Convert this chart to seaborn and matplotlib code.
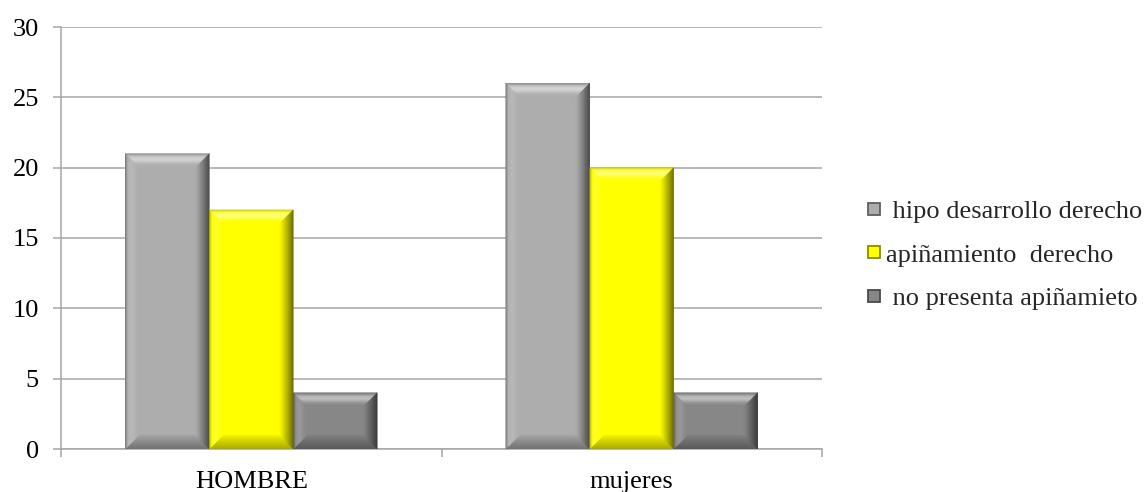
import numpy as np
import pandas as pd
import matplotlib
matplotlib.use("Agg")
import matplotlib.pyplot as plt
from matplotlib.patches import Polygon
from matplotlib.lines import Line2D
from matplotlib.colors import to_rgb
import seaborn as sns

# Data
groups = ["HOMBRE", "mujeres"]
series = [" hipo desarrollo derecho", "apiñamiento  derecho", " no presenta apiñamieto"]
hipo_desarrollo = [21, 26]
apinamiento = [17, 20]
no_presenta = [4, 4]
y_ticks = [0, 5, 10, 15, 20, 25, 30]

colors = ["#ADADAD", "#FFFF00", "#878787"]

df = pd.DataFrame({
    "grupo": groups * 3,
    "serie": [series[0]] * 2 + [series[1]] * 2 + [series[2]] * 2,
    "valor": hipo_desarrollo + apinamiento + no_presenta,
})

sns.set_style("white")
plt.rcParams["font.family"] = ["Liberation Serif", "DejaVu Serif"]

fig = plt.figure(figsize=(11.44, 4.92), dpi=100)
ax = fig.add_axes([61 / 1144, 1 - 449 / 492, (822 - 61) / 1144, (449 - 27) / 492])

sns.barplot(data=df, x="grupo", y="valor", hue="serie", order=groups,
            hue_order=series, palette=colors, width=0.662, saturation=1,
            linewidth=0, legend=False, ax=ax, zorder=3)

ax.set_xlim(-0.5, 1.5)
ax.set_ylim(0, 30)
ax.set_yticks(y_ticks)
ax.set_xlabel("")
ax.set_ylabel("")

grid_c = "#A6A6A6"
ax.yaxis.grid(True, color=grid_c, linewidth=1.1, zorder=0)
ax.xaxis.grid(False)
ax.set_axisbelow(True)
for s in ["top", "right"]:
    ax.spines[s].set_visible(False)
for s in ["left", "bottom"]:
    ax.spines[s].set_color(grid_c)
    ax.spines[s].set_linewidth(1.1)

ax.tick_params(axis="y", which="major", direction="out", length=6, width=1.1,
               color=grid_c, left=True, labelsize=19, pad=10)
ax.set_xticks([0, 1])
ax.set_xticklabels(groups)
ax.set_xticks([-0.5, 0.5, 1.5], minor=True)
ax.tick_params(axis="x", which="major", length=0, labelsize=19, pad=16)
ax.tick_params(axis="x", which="minor", direction="out", length=6, width=1.1,
               color=grid_c, bottom=True)
for lbl in ax.get_xticklabels() + ax.get_yticklabels():
    lbl.set_color("black")

# Bevelled edges drawn over each bar, sized in pixels
fig.canvas.draw()
bbox = ax.get_window_extent()
px_x = (ax.get_xlim()[1] - ax.get_xlim()[0]) / bbox.width
px_y = (ax.get_ylim()[1] - ax.get_ylim()[0]) / bbox.height
bev = 14
n_strips = 14


def mix(c, target, a):
    a = float(np.clip(a, 0, 1))
    return tuple(ci * (1 - a) + ti * a for ci, ti in zip(c, target))


def side_color(base, side, t):
    white, black = (1, 1, 1), (0, 0, 0)
    if side == "top":
        light = 0.5 * np.exp(-((t - 0.42) / 0.28) ** 2)
        dark = 0.22 * np.exp(-(t / 0.12) ** 2)
        return mix(mix(base, white, light), black, dark)
    if side == "right":
        return mix(base, black, 0.62 * (1 - t) ** 1.1)
    if side == "bottom":
        return mix(base, black, 0.04 + 0.3 * (1 - t) ** 0.9)
    # left
    light = 0.15 * np.exp(-((t - 0.45) / 0.3) ** 2)
    dark = 0.35 * np.exp(-(t / 0.12) ** 2)
    return mix(mix(base, white, light), black, dark)


bars = [p for p in ax.patches if p.get_height() > 0]
for p in bars:
    x0, y0 = p.get_x(), p.get_y()
    x1, y1 = x0 + p.get_width(), y0 + p.get_height()
    base = to_rgb(p.get_facecolor())
    bx, by = bev * px_x, bev * px_y
    for k in range(n_strips):
        t0, t1 = k / n_strips, (k + 1) / n_strips
        tm = (t0 + t1) / 2
        o = (x0 + bx * t0, y0 + by * t0, x1 - bx * t0, y1 - by * t0)
        i = (x0 + bx * t1, y0 + by * t1, x1 - bx * t1, y1 - by * t1)
        quads = {
            "top": [(o[0], o[3]), (o[2], o[3]), (i[2], i[3]), (i[0], i[3])],
            "bottom": [(o[0], o[1]), (o[2], o[1]), (i[2], i[1]), (i[0], i[1])],
            "left": [(o[0], o[1]), (o[0], o[3]), (i[0], i[3]), (i[0], i[1])],
            "right": [(o[2], o[1]), (o[2], o[3]), (i[2], i[3]), (i[2], i[1])],
        }
        for side, pts in quads.items():
            c = side_color(base, side, tm)
            ax.add_patch(Polygon(pts, closed=True, facecolor=c, edgecolor=c,
                                 linewidth=0.3, zorder=4, antialiased=True))

# Legend with small square markers
handles = [Line2D([0], [0], linestyle="none", marker="s", markersize=8,
                  markerfacecolor=c, markeredgecolor=mix(to_rgb(c), (0, 0, 0), 0.45),
                  markeredgewidth=1.3) for c in colors]
fig.legend(handles, series, loc="center left", bbox_to_anchor=(0.748, 0.482),
           frameon=False, fontsize=19, handlelength=0.6, handletextpad=0.15,
           labelspacing=0.75, borderaxespad=0)

fig.savefig("out.png", dpi=100)
